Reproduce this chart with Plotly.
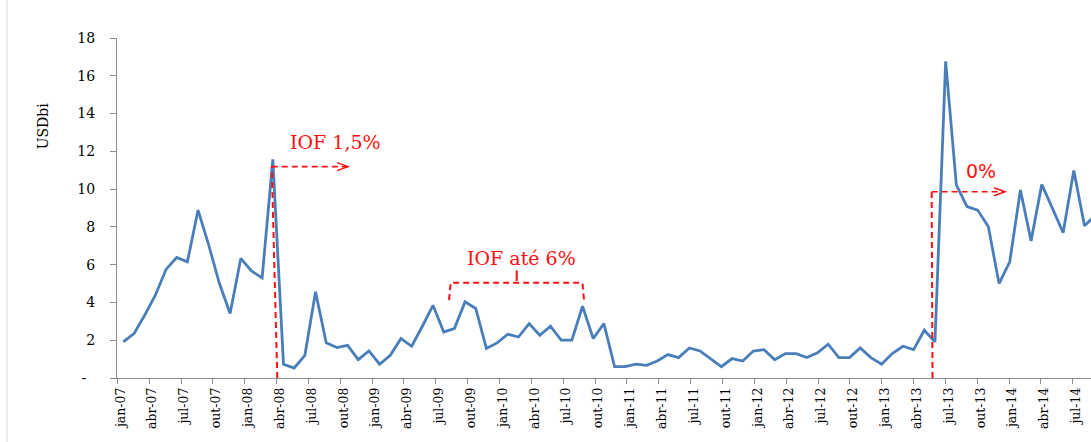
import plotly.graph_objects as go

# ---- data -------------------------------------------------------------
month_abbr = ["jan", "fev", "mar", "abr", "mai", "jun",
              "jul", "ago", "set", "out", "nov", "dez"]
years = ["07", "08", "09", "10", "11", "12", "13", "14"]

values = [
    # 2007
    1.91, 2.35, 3.32, 4.38, 5.75, 6.38, 6.15, 8.89, 7.04, 5.00, 3.41, 6.33,
    # 2008
    5.67, 5.30, 11.58, 0.73, 0.53, 1.20, 4.56, 1.86, 1.61, 1.73, 0.97, 1.43,
    # 2009
    0.73, 1.20, 2.09, 1.68, 2.74, 3.85, 2.44, 2.62, 4.03, 3.68, 1.56, 1.86,
    # 2010
    2.32, 2.17, 2.88, 2.26, 2.74, 2.00, 2.00, 3.80, 2.09, 2.88, 0.60, 0.60,
    # 2011
    0.73, 0.67, 0.90, 1.24, 1.08, 1.59, 1.43, 1.03, 0.60, 1.03, 0.90, 1.43,
    # 2012
    1.50, 0.97, 1.29, 1.29, 1.08, 1.33, 1.79, 1.08, 1.08, 1.59, 1.08, 0.73,
    # 2013
    1.29, 1.68, 1.50, 2.53, 1.91, 16.76, 10.22, 9.07, 8.89, 8.01, 5.00, 6.15,
    # 2014
    9.95, 7.26, 10.25, 8.98, 7.69, 10.98, 8.06, 8.60,
]

categories = [f"{m}-{y}" for y in years for m in month_abbr][:len(values)]
x_idx = list(range(len(values)))

tick_idx = [i for i in x_idx if i % 3 == 0 and i <= 90]
tick_text = [categories[i] for i in tick_idx]
label_pos = [i - 0.2 for i in tick_idx]
boundary_ticks = [i - 0.5 for i in tick_idx]

y_ticks = [0, 2, 4, 6, 8, 10, 12, 14, 16, 18]
y_text = ["-\u00a0\u00a0"] + [str(v) for v in y_ticks[1:]]

# annotation anchor points (data units)
iof15_top = (13.9, 11.19)
iof15_bottom = (14.42, 0)
iof15_arrow_end = 21.04
iof15_text = (15.42, 12.5)
bracket_left, bracket_right = 30.5, 43.14
bracket_y, bracket_foot = 5.04, 4.12
bracket_mid = 36.84
bracket_text = (37.3, 6.33)
zero_x_top, zero_x_bottom = 75.69, 75.77
zero_y = 9.86
zero_arrow_end = 82.56
zero_text = (80.27, 10.98)

RED = "#FF1010"
GRAY = "#8C8C8C"
BLUE = "#4A7EBB"

fig = go.Figure()
fig.add_trace(go.Scatter(
    x=x_idx, y=values, mode="lines",
    line=dict(color=BLUE, width=2.8),
    hoverinfo="skip", showlegend=False,
))
# empty trace so the category-label axis is drawn
fig.add_trace(go.Scatter(x=[], y=[], xaxis="x2", yaxis="y", showlegend=False,
                         hoverinfo="skip"))

dash = "6px,4px"
shapes = [
    # IOF 1,5%
    dict(type="line", x0=iof15_bottom[0], y0=iof15_bottom[1], x1=iof15_top[0], y1=iof15_top[1],
         line=dict(color=RED, width=2, dash=dash)),
    dict(type="line", x0=iof15_top[0], y0=iof15_top[1], x1=iof15_arrow_end, y1=iof15_top[1],
         line=dict(color=RED, width=1.6, dash=dash)),
    dict(type="path", xsizemode="pixel", ysizemode="pixel",
         xanchor=iof15_arrow_end, yanchor=iof15_top[1],
         path="M-11,4 L0,0 L-11,-4", line=dict(color=RED, width=1.4)),
    # IOF até 6% bracket
    dict(type="path",
         path=f"M{bracket_left},{bracket_foot} L{bracket_left + 0.15},{bracket_y} "
              f"L{bracket_right - 0.15},{bracket_y} L{bracket_right},{bracket_foot}",
         line=dict(color=RED, width=2, dash=dash)),
    dict(type="line", x0=bracket_mid, y0=bracket_y + 0.1, x1=bracket_mid, y1=bracket_y + 0.65,
         line=dict(color=RED, width=2)),
    # 0%
    dict(type="line", x0=zero_x_bottom, y0=0, x1=zero_x_top, y1=zero_y,
         line=dict(color=RED, width=2, dash=dash)),
    dict(type="line", x0=zero_x_top, y0=zero_y, x1=zero_arrow_end, y1=zero_y,
         line=dict(color=RED, width=1.6, dash=dash)),
    dict(type="path", xsizemode="pixel", ysizemode="pixel",
         xanchor=zero_arrow_end, yanchor=zero_y,
         path="M-11,4 L0,0 L-11,-4", line=dict(color=RED, width=1.4)),
    # light frame line at left
    dict(type="line", xref="paper", yref="paper", x0=-0.113, x1=-0.113, y0=-0.3, y1=1.2,
         line=dict(color="#D9D9D9", width=1)),
]

annotations = [
    dict(text="IOF 1,5%", x=iof15_text[0], y=iof15_text[1], xanchor="left", yanchor="middle",
         showarrow=False, font=dict(family="DejaVu Serif", size=19, color=RED)),
    dict(text="IOF até 6%", x=bracket_text[0], y=bracket_text[1], xanchor="center",
         yanchor="middle", showarrow=False,
         font=dict(family="DejaVu Serif", size=19, color=RED)),
    dict(text="0%", x=zero_text[0], y=zero_text[1], xanchor="center", yanchor="middle",
         showarrow=False, font=dict(family="DejaVu Sans", size=19, color=RED)),
    dict(text="USDbi", xref="paper", yref="paper", x=-0.076, y=0.743, textangle=-90,
         xanchor="center", yanchor="middle", showarrow=False,
         font=dict(family="DejaVu Serif", size=14, color="#000000")),
]

fig.update_layout(
    width=1091, height=442,
    margin=dict(l=117, r=0, t=38, b=64, pad=0),
    paper_bgcolor="white", plot_bgcolor="white",
    shapes=shapes, annotations=annotations,
    showlegend=False,
    xaxis=dict(
        range=[-0.59, 90.61], showgrid=False, zeroline=False,
        showline=True, linecolor=GRAY, linewidth=1,
        showticklabels=False, ticks="", automargin=False,
    ),
    xaxis2=dict(
        overlaying="x", anchor="y", side="bottom",
        range=[-0.528, 91.21], showgrid=False, zeroline=False, showline=False,
        tickmode="array", tickvals=label_pos, ticktext=tick_text,
        ticks="", tickangle=-90, ticklabelstandoff=6, ticklabeloverflow="allow",
        automargin=False,
        tickfont=dict(family="DejaVu Serif", size=12.5, color="#000000"),
        minor=dict(tickmode="array", tickvals=boundary_ticks, ticks="outside",
                   ticklen=5, tickcolor=GRAY, tickwidth=1, showgrid=False),
    ),
    yaxis=dict(
        range=[0, 18], showgrid=False, zeroline=False,
        showline=True, linecolor=GRAY, linewidth=1,
        tickmode="array", tickvals=y_ticks, ticktext=y_text,
        ticks="outside", ticklen=6, tickcolor=GRAY, tickwidth=1,
        ticklabelstandoff=12, automargin=False,
        tickfont=dict(family="DejaVu Serif", size=14, color="#000000"),
    ),
)

fig.write_html(
    "out.html",
    config={"displayModeBar": False},
    post_script="document.body.style.margin='0';document.body.style.overflow='hidden';",
)
